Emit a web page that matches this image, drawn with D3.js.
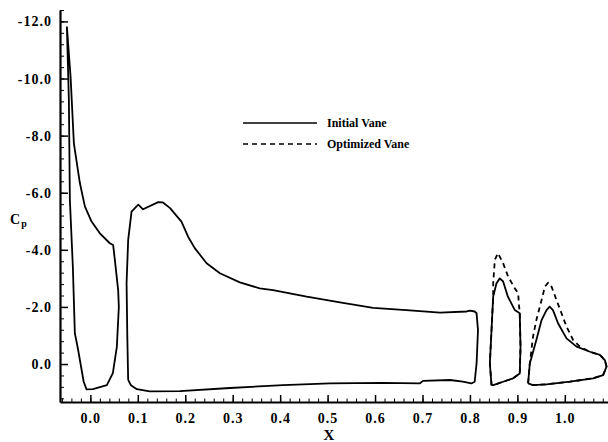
<!DOCTYPE html>
<html>
<head>
<meta charset="utf-8">
<script src="https://cdn.jsdelivr.net/npm/d3@7"></script>
<style>
  body { margin: 0; background: #fff; }
  svg { display: block; }
  .axis path, .axis line { stroke: #000; }
  .axis text { font-family: "Liberation Serif", "Times New Roman", serif; font-weight: bold; font-size: 14px; letter-spacing: 1px; fill: #000; }
  .curve { fill: none; stroke: #000; stroke-width: 1.8; stroke-linejoin: round; }
  .label { font-family: "Liberation Serif", "Times New Roman", serif; font-weight: bold; fill: #000; }
</style>
</head>
<body>
<div id="chart"></div>
<script>
"use strict";

// [x, Cp] pairs, each element is a closed loop
var slat = [
  [-0.0495, -11.82], [-0.0417, -10.06], [-0.0348, -7.75], [-0.0327, -7.50],
  [-0.0221, -6.34], [-0.0116, -5.52], [0.0025, -4.99], [0.020, -4.58],
  [0.041, -4.23], [0.048, -4.17], [0.0516, -3.65], [0.0586, -2.59],
  [0.060, -2.00], [0.0558, -0.60], [0.0474, 0.32], [0.0348, 0.74],
  [0.0053, 0.88], [-0.008, 0.89], [-0.0141, 0.62], [-0.0257, -0.49],
  [-0.0327, -1.08], [-0.0369, -3.40], [-0.0432, -5.75], [-0.0453, -9.26],
  [-0.0495, -11.82]
];

var mainEl = [
  [0.0797, 0.56], [0.0854, 0.74], [0.098, 0.88], [0.125, 0.96],
  [0.189, 0.95], [0.294, 0.84], [0.406, 0.74], [0.505, 0.68],
  [0.616, 0.66], [0.694, 0.68], [0.701, 0.59], [0.758, 0.56],
  [0.785, 0.62], [0.803, 0.68], [0.810, 0.62], [0.814, -0.02],
  [0.817, -1.19], [0.814, -1.78], [0.810, -1.84], [0.800, -1.87],
  [0.793, -1.84], [0.737, -1.80], [0.666, -1.89], [0.596, -1.97],
  [0.526, -2.16], [0.456, -2.36], [0.385, -2.59], [0.357, -2.65],
  [0.315, -2.86], [0.273, -3.18], [0.245, -3.53], [0.220, -4.06],
  [0.206, -4.46], [0.192, -4.99], [0.168, -5.46], [0.153, -5.66],
  [0.143, -5.67], [0.111, -5.42], [0.101, -5.58], [0.0868, -5.34],
  [0.0797, -4.35], [0.0763, -2.83], [0.078, -0.84], [0.0797, 0.56]
];

var vaneInitial = [
  [0.8455, 0.74], [0.842, -0.02], [0.8455, -1.19], [0.849, -2.36],
  [0.856, -2.83], [0.863, -3.00], [0.870, -2.89], [0.880, -2.36],
  [0.8946, -1.89], [0.905, -1.78], [0.9066, -0.61], [0.905, 0.33],
  [0.891, 0.50], [0.870, 0.62], [0.849, 0.74], [0.8455, 0.74]
];

var vaneOptimized = [
  [0.8455, 0.74], [0.842, -0.02], [0.8455, -1.19], [0.849, -2.36],
  [0.849, -2.83], [0.8525, -3.65], [0.859, -3.88], [0.870, -3.53],
  [0.8805, -3.06], [0.8946, -2.65], [0.9016, -2.48], [0.9037, -2.01],
  [0.905, -1.78], [0.9066, -0.61], [0.905, 0.33], [0.891, 0.50],
  [0.870, 0.62], [0.849, 0.74], [0.8455, 0.74]
];

var flapInitial = [
  [0.9226, 0.68], [0.9262, -0.02], [0.940, -0.84], [0.951, -1.54],
  [0.9614, -1.89], [0.968, -2.01], [0.975, -1.89], [0.9857, -1.43],
  [1.0036, -0.90], [1.0247, -0.61], [1.053, -0.43], [1.0738, -0.32],
  [1.0843, -0.14], [1.0879, 0.09], [1.0807, 0.39], [1.0596, 0.50],
  [1.0105, 0.62], [0.9614, 0.71], [0.933, 0.74], [0.9226, 0.68]
];

var flapOptimized = [
  [0.9226, 0.68], [0.9262, -0.02], [0.933, -0.96], [0.940, -1.54],
  [0.951, -2.24], [0.958, -2.71], [0.965, -2.85], [0.972, -2.71],
  [0.9825, -2.24], [0.993, -1.78], [1.0036, -1.31], [1.0175, -0.84],
  [1.0316, -0.61], [1.053, -0.43], [1.0738, -0.32], [1.0843, -0.14],
  [1.0879, 0.09], [1.0807, 0.39], [1.0596, 0.50], [1.0105, 0.62],
  [0.9614, 0.71], [0.933, 0.74], [0.9226, 0.68]
];

var xTicks = [0.0, 0.1, 0.2, 0.3, 0.4, 0.5, 0.6, 0.7, 0.8, 0.9, 1.0];
var yTicks = [-12, -10, -8, -6, -4, -2, 0];

var legendItems = [
  { name: "Initial Vane", dash: null },
  { name: "Optimized Vane", dash: "5,4" }
];

var width = 608, height = 442;

var x = d3.scaleLinear().domain([-0.064, 1.091]).range([60, 608]);
var y = d3.scaleLinear().domain([-12.4, 1.33]).range([10, 402]);

var svg = d3.select("#chart").append("svg")
  .attr("width", width)
  .attr("height", height);

// minor ticks first, majors on top
var xMinor = d3.range(-6, 109, 2).map(function (d) { return d / 100; });
var yMinor = d3.range(-124, 13, 4).map(function (d) { return d / 10; });

svg.append("g")
  .attr("class", "axis")
  .attr("transform", "translate(0," + y.range()[1] + ")")
  .call(d3.axisBottom(x).tickValues(xMinor).tickSizeInner(-3.5).tickSizeOuter(0).tickFormat(""))
  .call(function (g) { g.select(".domain").remove(); });

svg.append("g")
  .attr("class", "axis")
  .attr("transform", "translate(" + x.range()[0] + ",0)")
  .call(d3.axisLeft(y).tickValues(yMinor).tickSizeInner(-4).tickSizeOuter(0).tickFormat(""))
  .call(function (g) { g.select(".domain").remove(); });

var xAxis = svg.append("g")
  .attr("class", "axis")
  .attr("transform", "translate(0," + y.range()[1] + ")")
  .call(d3.axisBottom(x).tickValues(xTicks).tickSizeInner(-7).tickSizeOuter(0)
    .tickPadding(11).tickFormat(function (d) { return d.toFixed(1); }));
xAxis.select(".domain").attr("stroke-width", 2);
xAxis.selectAll(".tick line").attr("stroke-width", 1.5);

var yAxis = svg.append("g")
  .attr("class", "axis")
  .attr("transform", "translate(" + x.range()[0] + ",0)")
  .call(d3.axisLeft(y).tickValues(yTicks).tickSizeInner(-8).tickSizeOuter(0)
    .tickPadding(8).tickFormat(function (d) { return d.toFixed(1); }));
yAxis.select(".domain").attr("stroke-width", 2.2);
yAxis.selectAll(".tick line").attr("stroke-width", 1.5);

// curves
var line = d3.line()
  .x(function (d) { return x(d[0]); })
  .y(function (d) { return y(d[1]); });

var dashed = [vaneOptimized, flapOptimized];
var solid = [slat, mainEl, vaneInitial, flapInitial];

svg.append("g").selectAll("path")
  .data(dashed)
  .join("path")
  .attr("class", "curve")
  .attr("stroke-dasharray", "5,4")
  .attr("d", line);

svg.append("g").selectAll("path")
  .data(solid)
  .join("path")
  .attr("class", "curve")
  .attr("d", line);

// legend
var legend = svg.append("g").attr("transform", "translate(243,123)");
legendItems.forEach(function (item, i) {
  var row = legend.append("g").attr("transform", "translate(0," + (i * 21) + ")");
  row.append("line")
    .attr("x1", 0).attr("x2", 74)
    .attr("stroke", "#000")
    .attr("stroke-width", 1.5)
    .attr("stroke-dasharray", item.dash);
  row.append("text")
    .attr("class", "label")
    .attr("x", 84)
    .attr("dy", "0.35em")
    .style("font-size", "12px")
    .text(item.name);
});

// axis titles
var cp = svg.append("text")
  .attr("class", "label")
  .attr("x", 10)
  .attr("y", 224)
  .style("font-size", "14px")
  .text("C");
cp.append("tspan")
  .attr("dx", 1)
  .attr("dy", 3)
  .style("font-size", "10px")
  .text("p");

svg.append("text")
  .attr("class", "label")
  .attr("x", 329)
  .attr("y", 440)
  .attr("text-anchor", "middle")
  .style("font-size", "15px")
  .text("X");
</script>
</body>
</html>
